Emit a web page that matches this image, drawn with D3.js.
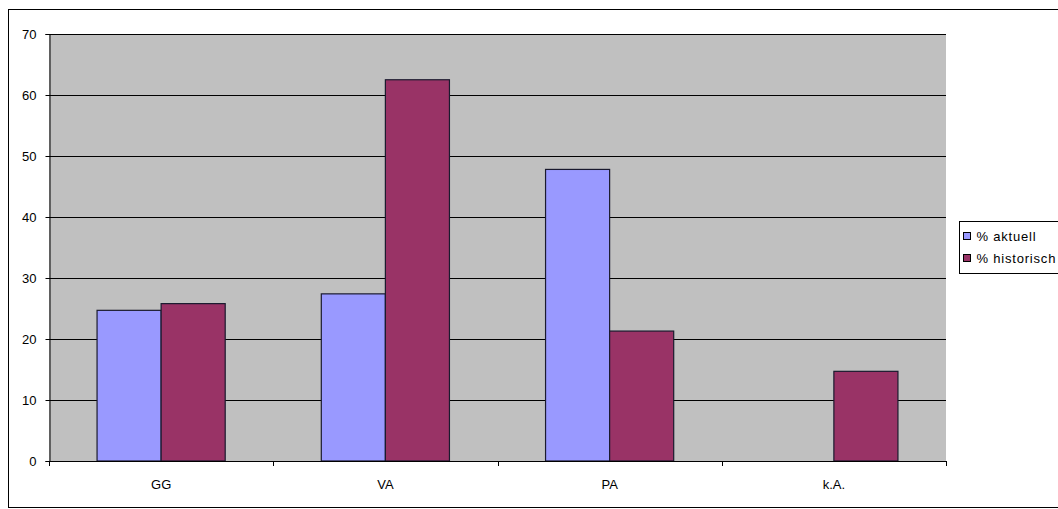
<!DOCTYPE html>
<html lang="de">
<head>
  <meta charset="utf-8">
  <title>Balkendiagramm</title>
  <script src="https://cdnjs.cloudflare.com/ajax/libs/d3/7.8.5/d3.min.js"></script>
  <style>
    body { margin: 0; background: #fff; }
    svg text { font-family: Arial, "Liberation Sans", sans-serif; font-size: 13px; fill: #000; }
  </style>
</head>
<body>
  <svg id="chart" width="1058" height="509"></svg>
  <script>
    // categories and series
    var categories = ["GG", "VA", "PA", "k.A."];
    var seriesNames = ["% aktuell", "% historisch"];
    var aktuell = [24.7, 27.4, 47.8, 0];
    var historisch = [25.8, 62.5, 21.3, 14.7];
    var yTicks = [0, 10, 20, 30, 40, 50, 60, 70];
    var colors = ["#9999ff", "#993366"];

    var svg = d3.select("#chart");

    // outer frame
    svg.append("rect")
      .attr("x", 8.5).attr("y", 9.5)
      .attr("width", 1080).attr("height", 498)
      .attr("fill", "#fff").attr("stroke", "#000").attr("stroke-width", 1);

    var plot = { left: 49, top: 34, right: 946, bottom: 461 };

    var x = d3.scaleBand()
      .domain(categories)
      .range([plot.left, plot.right]);

    var inner = d3.scaleBand()
      .domain(seriesNames)
      .range([0, x.bandwidth()])
      .paddingInner(0)
      .paddingOuter(0.75);

    var y = d3.scaleLinear()
      .domain([0, 70])
      .range([plot.bottom, plot.top]);

    // plot area background
    svg.append("rect")
      .attr("x", plot.left).attr("y", plot.top)
      .attr("width", plot.right - plot.left).attr("height", plot.bottom - plot.top)
      .attr("fill", "#c0c0c0");

    // gridlines
    svg.append("g")
      .selectAll("line")
      .data(yTicks.filter(function (d) { return d > 0; }))
      .join("line")
      .attr("x1", plot.left).attr("x2", plot.right)
      .attr("y1", function (d) { return Math.round(y(d)) + 0.5; })
      .attr("y2", function (d) { return Math.round(y(d)) + 0.5; })
      .attr("stroke", "#000").attr("stroke-width", 1);

    // bars
    var rows = categories.map(function (c, i) {
      return { cat: c, values: [aktuell[i], historisch[i]] };
    });

    var groups = svg.append("g")
      .selectAll("g")
      .data(rows)
      .join("g")
      .attr("transform", function (d) { return "translate(" + x(d.cat) + ",0)"; });

    groups.selectAll("rect")
      .data(function (d) {
        return d.values.map(function (v, j) { return { name: seriesNames[j], value: v, idx: j }; });
      })
      .join("rect")
      .filter(function (d) { return d.value > 0; })
      .attr("x", function (d) { return inner(d.name); })
      .attr("y", function (d) { return y(d.value); })
      .attr("width", inner.bandwidth())
      .attr("height", function (d) { return y(0) - y(d.value); })
      .attr("fill", function (d) { return colors[d.idx]; })
      .attr("stroke", "#1a1a2e").attr("stroke-width", 1.2);

    // y axis
    var yAxis = svg.append("g")
      .attr("transform", "translate(" + (plot.left + 0.5) + ",0)")
      .call(d3.axisLeft(y).tickValues(yTicks).tickSize(4).tickPadding(9));
    yAxis.select(".domain").attr("stroke", "#000");
    yAxis.selectAll("text").style("font-size", "13px").attr("dy", "0.35em");

    // x axis
    var xAxis = svg.append("g")
      .attr("transform", "translate(0," + (plot.bottom + 0.5) + ")")
      .call(d3.axisBottom(x).tickSize(0).tickPadding(18));
    xAxis.select(".domain").attr("stroke", "#000").attr("d", "M" + plot.left + ",0H" + plot.right);
    xAxis.selectAll("text").style("font-size", "13px");

    // category boundary ticks
    var bounds = categories.map(function (c) { return x(c); }).concat([plot.right]);
    svg.append("g")
      .selectAll("line")
      .data(bounds)
      .join("line")
      .attr("x1", function (d) { return Math.round(d) + 0.5; })
      .attr("x2", function (d) { return Math.round(d) + 0.5; })
      .attr("y1", plot.bottom).attr("y2", plot.bottom + 5)
      .attr("stroke", "#000");

    // legend
    var legend = svg.append("g").attr("transform", "translate(959.5,221.5)");
    legend.append("rect")
      .attr("width", 120).attr("height", 52)
      .attr("fill", "#fff").attr("stroke", "#000");
    var items = legend.selectAll("g.item")
      .data(seriesNames)
      .join("g")
      .attr("class", "item")
      .attr("transform", function (d, i) { return "translate(4," + (14 + i * 22) + ")"; });
    items.append("rect")
      .attr("x", 0).attr("y", -3)
      .attr("width", 7).attr("height", 7)
      .attr("fill", function (d, i) { return colors[i]; })
      .attr("stroke", "#000");
    items.append("text")
      .attr("x", 13).attr("y", 1)
      .attr("dy", "0.35em")
      .style("letter-spacing", "0.8px")
      .text(function (d) { return d; });
  </script>
</body>
</html>
